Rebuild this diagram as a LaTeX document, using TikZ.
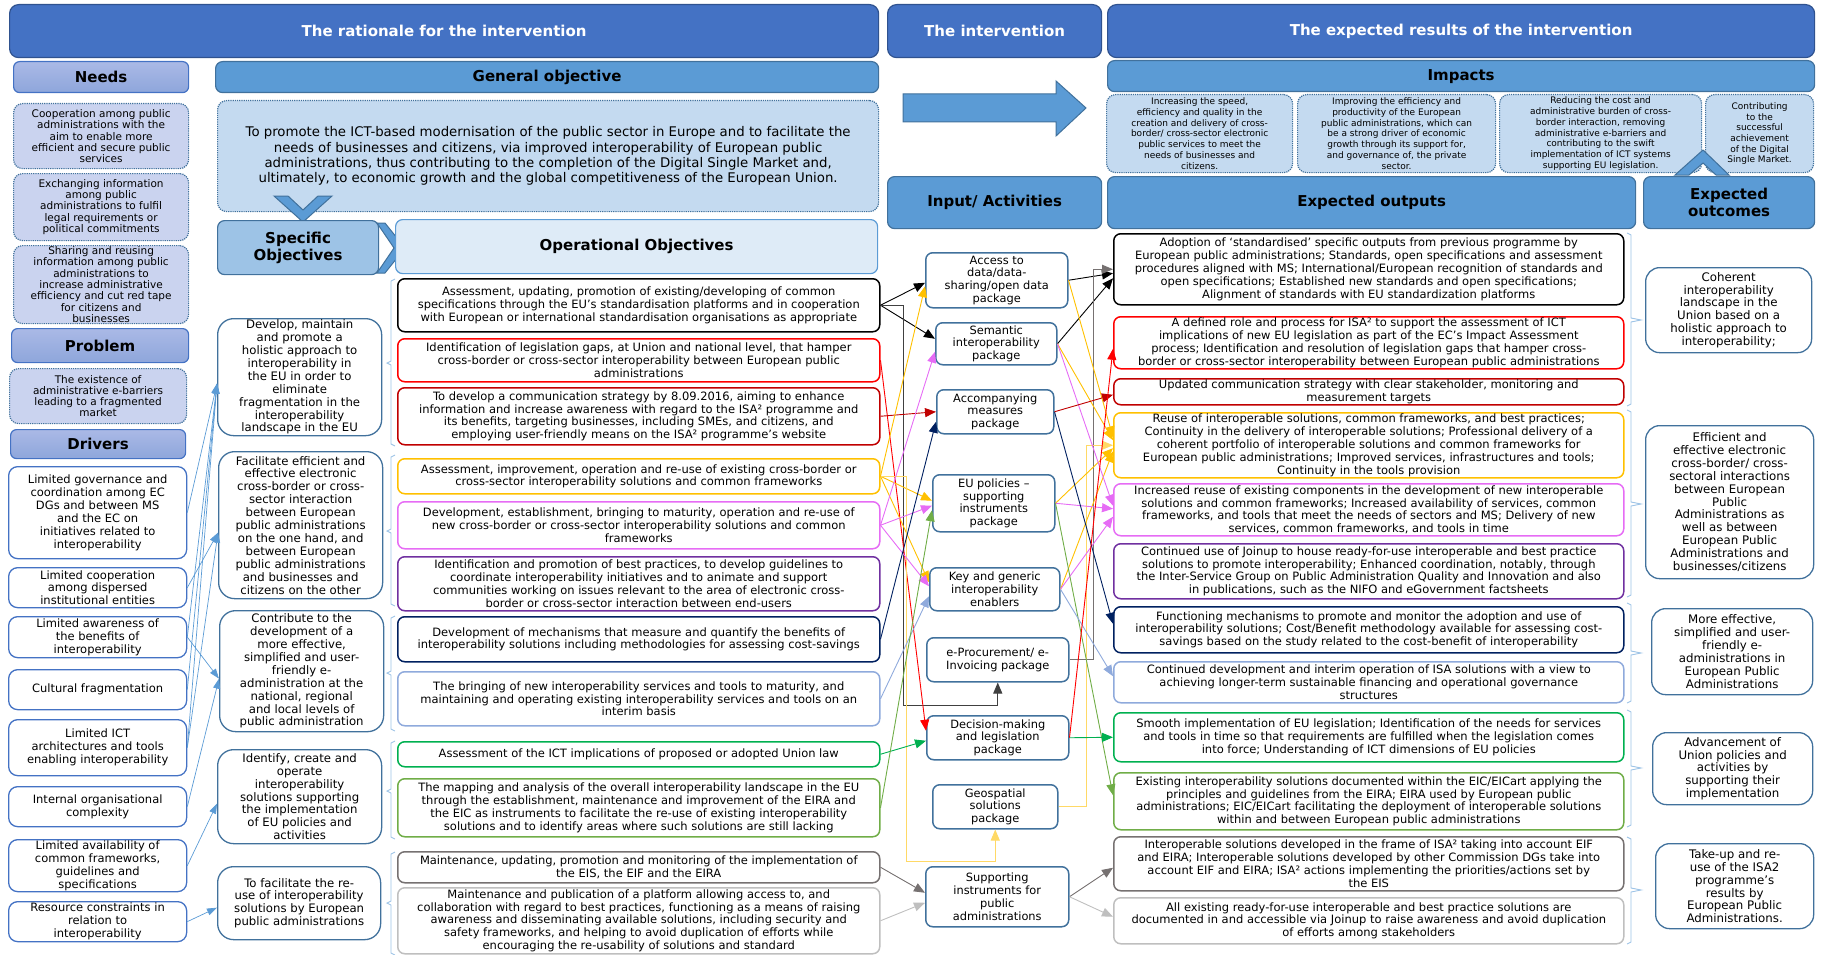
\documentclass[tikz,border=0pt]{standalone}
\usepackage{fontspec}
\setmainfont{DejaVu Sans}
\usetikzlibrary{arrows.meta,calc}

\definecolor{bandblue}{HTML}{4472C4}
\definecolor{bandline}{HTML}{2F528F}
\definecolor{midblue}{HTML}{5B9BD5}
\definecolor{edgeblue}{HTML}{41719C}
\definecolor{paleblue}{HTML}{C4DAF0}
\definecolor{iceblue}{HTML}{DEEBF7}
\definecolor{soblue}{HTML}{9DC3E6}
\definecolor{lavtop}{HTML}{AAB9E6}
\definecolor{lavbot}{HTML}{8EA6DB}
\definecolor{lavfill}{HTML}{CAD3EF}
\definecolor{brkblue}{HTML}{9DC3E6}
\definecolor{cred}{HTML}{FF0000}
\definecolor{cdarkred}{HTML}{C00000}
\definecolor{cgold}{HTML}{FFC000}
\definecolor{cpale}{HTML}{FFD966}
\definecolor{cpink}{HTML}{E66CF5}
\definecolor{cpurple}{HTML}{7030A0}
\definecolor{cnavy}{HTML}{002060}
\definecolor{clblue}{HTML}{8FAADC}
\definecolor{cgreen}{HTML}{00B050}
\definecolor{clgreen}{HTML}{70AD47}
\definecolor{cgray}{HTML}{767171}
\definecolor{clgray}{HTML}{BFBFBF}
\definecolor{cdark}{HTML}{404040}

\tikzset{
	cell/.style={anchor=north west, align=center, inner xsep=2pt, inner ysep=1pt},
	banner/.style={cell, fill=bandblue, draw=bandline, line width=1.2pt, rounded corners=9pt,
		text=white, font=\bfseries\fontsize{15}{17}\selectfont},
	head/.style={cell, fill=midblue, draw=edgeblue, line width=1.2pt, rounded corners=7pt,
		font=\bfseries\fontsize{15}{17}\selectfont},
	lavhead/.style={cell, top color=lavtop, bottom color=lavbot, draw=bandblue, line width=1.2pt,
		rounded corners=6pt, font=\bfseries\fontsize{15}{17}\selectfont},
	needbox/.style={cell, fill=lavfill, draw=edgeblue, densely dotted, line width=1.2pt,
		rounded corners=9pt, font=\fontsize{10.5}{11.3}\selectfont},
	impbox/.style={cell, fill=paleblue, draw=edgeblue, densely dotted, line width=1.2pt,
		rounded corners=9pt, font=\fontsize{9}{10.7}\selectfont},
	drvbox/.style={cell, fill=white, draw=bandblue, line width=1.3pt, rounded corners=9pt,
		font=\fontsize{11.5}{12.9}\selectfont},
	sobox/.style={cell, draw=edgeblue, line width=1.3pt, rounded corners=16pt,
		font=\fontsize{11.7}{12.9}\selectfont},
	opbox/.style={cell, line width=1.5pt, rounded corners=7pt, font=\fontsize{11.5}{12.8}\selectfont},
	actbox/.style={cell, draw=edgeblue, line width=1.5pt, rounded corners=7pt,
		font=\fontsize{11.4}{12.8}\selectfont},
	ocbox/.style={cell, draw=edgeblue, line width=1.3pt, rounded corners=14pt,
		font=\fontsize{11.8}{12.9}\selectfont},
	conn/.style={line width=0.9pt, -{Triangle[length=11pt,width=9pt]}},
	drvarrow/.style={midblue, line width=0.7pt, -{Triangle[length=10pt,width=7pt]}},
	brk/.style={brkblue, line width=0.9pt},
	chevron/.style={fill=midblue, draw=edgeblue, line width=1pt},
}

\begin{document}
\begin{tikzpicture}[x=1pt, y=-1pt]
		\useasboundingbox (0,0) rectangle (1825,955);
		
		\node[banner, minimum width=869, minimum height=53] (ratio) at (9,4) {The rationale for the intervention};
		\node[banner, minimum width=214, minimum height=53] (interv) at (887,4) {The intervention};
		\node[banner, minimum width=707, minimum height=53] (results) at (1107,4) {The expected results of the intervention};
		
		\node[lavhead, minimum width=175, minimum height=31] (needs) at (13,61) {Needs};
		\node[head, minimum width=663, minimum height=31] (genobj) at (215,61) {General objective};
		\node[head, minimum width=707, minimum height=31] (impacts) at (1107,60) {Impacts};
		
		\draw[chevron] (903,94) -- (1056,94) -- (1056,81) -- (1086,108) -- (1056,136) -- (1056,122) -- (903,122) -- cycle;
		
		\node[needbox, fill=paleblue, minimum width=661, minimum height=111, font=\fontsize{13.3}{15.2}\selectfont] (goaltxt) at (217,100)
			{To promote the ICT-based modernisation of the public sector in Europe and to facilitate the\\needs of businesses and citizens, via improved interoperability of European public\\administrations, thus contributing to the completion of the Digital Single Market and,\\ultimately, to economic growth and the global competitiveness of the European Union.};
		\draw[chevron] (274,196) -- (288,196) -- (303,210) -- (318,196) -- (332,196) -- (303,222) -- cycle;
		
		\node[impbox, minimum width=186, minimum height=78] (imp1) at (1106,94) {Increasing the speed,\\efficiency and quality in the\\creation and delivery of cross-\\border/ cross-sector electronic\\public services to meet the\\needs of businesses and\\citizens.};
		\node[impbox, minimum width=198, minimum height=78] (imp2) at (1297,94) {Improving the efficiency and\\productivity of the European\\public administrations, which can\\be a strong driver of economic\\growth through its support for,\\and governance of, the private\\sector.};
		\node[impbox, minimum width=202, minimum height=78] (imp3) at (1499,94) {Reducing the cost and\\administrative burden of cross-\\border interaction, removing\\administrative e-barriers and\\contributing to the swift\\implementation of ICT systems\\supporting EU legislation.};
		\node[impbox, minimum width=108, minimum height=78] (imp4) at (1705,94) {Contributing\\to the\\successful\\achievement\\of the Digital\\Single Market.};
		
		\node[needbox, minimum width=175, minimum height=65] (need1) at (13,103) {Cooperation among public\\administrations with the\\aim to enable more\\efficient and secure public\\services};
		\node[needbox, minimum width=175, minimum height=67] (need2) at (13,173) {Exchanging information\\among public\\administrations to fulfil\\legal requirements or\\political commitments};
		\node[needbox, minimum width=175, minimum height=78] (need3) at (13,245) {Sharing and reusing\\information among public\\administrations to\\increase administrative\\efficiency and cut red tape\\for citizens and\\businesses};
		\node[lavhead, minimum width=177, minimum height=34] (problem) at (11,328) {Problem};
		\node[needbox, minimum width=177, minimum height=55] (probtxt) at (9,368) {The existence of\\administrative e-barriers\\leading to a fragmented\\market};
		\node[lavhead, minimum width=175, minimum height=29] (drivers) at (10,429) {Drivers};
		
		\node[drvbox, minimum width=178, minimum height=92] (dr1) at (8,466) {Limited governance and\\coordination among EC\\DGs and between MS\\and the EC on\\initiatives related to\\interoperability};
		\node[drvbox, minimum width=178, minimum height=40] (dr2) at (8,567) {Limited cooperation\\among dispersed\\institutional entities};
		\node[drvbox, minimum width=178, minimum height=41] (dr3) at (8,616) {Limited awareness of\\the benefits of\\interoperability};
		\node[drvbox, minimum width=178, minimum height=40] (dr4) at (8,669) {Cultural fragmentation};
		\node[drvbox, minimum width=178, minimum height=56] (dr5) at (8,719) {Limited ICT\\architectures and tools\\enabling interoperability};
		\node[drvbox, minimum width=178, minimum height=40] (dr6) at (8,786) {Internal organisational\\complexity};
		\node[drvbox, minimum width=178, minimum height=52] (dr7) at (8,839) {Limited availability of\\common frameworks,\\guidelines and\\specifications};
		\node[drvbox, minimum width=178, minimum height=40] (dr8) at (8,901) {Resource constraints in\\relation to\\interoperability};
		
		\node[head, fill=soblue, minimum width=161, minimum height=54] (specobj) at (217,220) {Specific\\Objectives};
		\draw[chevron] (377,223) -- (385,223) -- (405,248) -- (385,273) -- (377,273) -- (394,248) -- cycle;
		\node[head, fill=iceblue, draw=midblue, minimum width=482, minimum height=54] (opobj) at (395,219) {Operational Objectives};
		
		\node[sobox, minimum width=164, minimum height=117] (so1) at (217,318) {Develop, maintain\\and promote a\\holistic approach to\\interoperability in\\the EU in order to\\eliminate\\fragmentation in the\\interoperability\\landscape in the EU};
		\node[sobox, minimum width=164, minimum height=147] (so2) at (218,451) {Facilitate efficient and\\effective electronic\\cross-border or cross-\\sector interaction\\between European\\public administrations\\on the one hand, and\\between European\\public administrations\\and businesses and\\citizens on the other};
		\node[sobox, minimum width=164, minimum height=121] (so3) at (219,610) {Contribute to the\\development of a\\more effective,\\simplified and user-\\friendly e-\\administration at the\\national, regional\\and local levels of\\public administration};
		\node[sobox, minimum width=164, minimum height=94] (so4) at (217,749) {Identify, create and\\operate\\interoperability\\solutions supporting\\the implementation\\of EU policies and\\activities};
		\node[sobox, minimum width=163, minimum height=73] (so5) at (217,866) {To facilitate the re-\\use of interoperability\\solutions by European\\public administrations};
		
		\node[opbox, draw=black, minimum width=482, minimum height=53] (op1) at (397,278) {Assessment, updating, promotion of existing/developing of common\\specifications through the EU's standardisation platforms and in cooperation\\with European or international standardisation organisations as appropriate};
		\node[opbox, draw=cred, minimum width=482, minimum height=43] (op2) at (397,338) {Identification of legislation gaps, at Union and national level, that hamper\\cross-border or cross-sector interoperability between European public\\administrations};
		\node[opbox, draw=cdarkred, minimum width=482, minimum height=57] (op3) at (397,387) {To develop a communication strategy by 8.09.2016, aiming to enhance\\information and increase awareness with regard to the ISA² programme and\\its benefits, targeting businesses, including SMEs, and citizens, and\\employing user-friendly means on the ISA² programme's website};
		\node[opbox, draw=cgold, minimum width=482, minimum height=35] (op4) at (397,458) {Assessment, improvement, operation and re-use of existing cross-border or\\cross-sector interoperability solutions and common frameworks};
		\node[opbox, draw=cpink, minimum width=482, minimum height=47] (op5) at (397,501) {Development, establishment, bringing to maturity, operation and re-use of\\new cross-border or cross-sector interoperability solutions and common\\frameworks};
		\node[opbox, draw=cpurple, minimum width=482, minimum height=54] (op6) at (397,556) {Identification and promotion of best practices, to develop guidelines to\\coordinate interoperability initiatives and to animate and support\\communities working on issues relevant to the area of electronic cross-\\border or cross-sector interaction between end-users};
		\node[opbox, draw=cnavy, minimum width=482, minimum height=45] (op7) at (397,616) {Development of mechanisms that measure and quantify the benefits of\\interoperability solutions including methodologies for assessing cost-savings};
		\node[opbox, draw=clblue, minimum width=482, minimum height=54] (op8) at (397,671) {The bringing of new interoperability services and tools to maturity, and\\maintaining and operating existing interoperability services and tools on an\\interim basis};
		\node[opbox, draw=cgreen, minimum width=482, minimum height=25] (op9) at (397,741) {Assessment of the ICT implications of proposed or adopted Union law};
		\node[opbox, draw=clgreen, minimum width=482, minimum height=58] (op10) at (397,778) {The mapping and analysis of the overall interoperability landscape in the EU\\through the establishment, maintenance and improvement of the EIRA and\\the EIC as instruments to facilitate the re-use of existing interoperability\\solutions and to identify areas where such solutions are still lacking};
		\node[opbox, draw=cgray, minimum width=482, minimum height=31] (op11) at (397,851) {Maintenance, updating, promotion and monitoring of the implementation of\\the EIS, the EIF and the EIRA};
		\node[opbox, draw=clgray, minimum width=482, minimum height=66] (op12) at (397,887) {Maintenance and publication of a platform allowing access to, and\\collaboration with regard to best practices, functioning as a means of raising\\awareness and disseminating available solutions, including security and\\safety frameworks, and helping to avoid duplication of efforts while\\encouraging the re-usability of solutions and standard};
		
		\draw[brk] (395,279) -- (391,281) -- (391,361) -- (387,363) -- (391,365) -- (391,444) -- (395,446);
		\draw[brk] (395,455) -- (391,457) -- (391,529) -- (387,531) -- (391,533) -- (391,604) -- (395,606);
		\draw[brk] (395,616) -- (391,618) -- (391,671) -- (387,673) -- (391,675) -- (391,729) -- (395,731);
		\draw[brk] (395,741) -- (391,743) -- (391,789) -- (387,791) -- (391,793) -- (391,837) -- (395,839);
		\draw[brk] (395,852) -- (391,854) -- (391,901) -- (387,903) -- (391,905) -- (391,953) -- (395,955);
		
		\node[head, minimum width=214, minimum height=52] (inact) at (887,176) {Input/ Activities};
		\node[head, minimum width=528, minimum height=52] (outhd) at (1107,176) {Expected outputs};
		\node[head, minimum width=171, minimum height=52] (ochd) at (1643,176) {Expected\\outcomes};
		\draw[chevron] (1675,175) -- (1703,150) -- (1729,175) -- (1716,175) -- (1703,163) -- (1689,175) -- cycle;
		
		\node[actbox, minimum width=142, minimum height=55] (acc) at (925,252) {Access to\\data/data-\\sharing/open data\\package};
		\node[actbox, minimum width=121, minimum height=42] (sem) at (935,322) {Semantic\\interoperability\\package};
		\node[actbox, minimum width=117, minimum height=44] (accm) at (936,389) {Accompanying\\measures\\package};
		\node[actbox, minimum width=122, minimum height=57] (eup) at (932,474) {EU policies –\\supporting\\instruments\\package};
		\node[actbox, minimum width=130, minimum height=43] (key) at (929,567) {Key and generic\\interoperability\\enablers};
		\node[actbox, minimum width=142, minimum height=44] (eproc) at (926,637) {e-Procurement/ e-\\Invoicing package};
		\node[actbox, minimum width=142, minimum height=44] (dec) at (926,715) {Decision-making\\and legislation\\package};
		\node[actbox, minimum width=125, minimum height=44] (geo) at (932,784) {Geospatial\\solutions\\package};
		\node[actbox, minimum width=143, minimum height=60] (sup) at (925,866) {Supporting\\instruments for\\public\\administrations};
		
		\node[opbox, draw=black, minimum width=510, minimum height=71] (out1) at (1113,233) {Adoption of ‘standardised’ specific outputs from previous programme by\\European public administrations; Standards, open specifications and assessment\\procedures aligned with MS; International/European recognition of standards and\\open specifications; Established new standards and open specifications;\\Alignment of standards with EU standardization platforms};
		\node[opbox, draw=cred, minimum width=510, minimum height=52] (out2) at (1113,316) {A defined role and process for ISA² to support the assessment of ICT\\implications of new EU legislation as part of the EC’s Impact Assessment\\process; Identification and resolution of legislation gaps that hamper cross-\\border or cross-sector interoperability between European public administrations};
		\node[opbox, draw=cdarkred, minimum width=510, minimum height=26] (out3) at (1113,378) {Updated communication strategy with clear stakeholder, monitoring and\\measurement targets};
		\node[opbox, draw=cgold, minimum width=510, minimum height=65] (out4) at (1113,412) {Reuse of interoperable solutions, common frameworks, and best practices;\\Continuity in the delivery of interoperable solutions; Professional delivery of a\\coherent portfolio of interoperable solutions and common frameworks for\\European public administrations; Improved services, infrastructures and tools;\\Continuity in the tools provision};
		\node[opbox, draw=cpink, minimum width=510, minimum height=52] (out5) at (1113,483) {Increased reuse of existing components in the development of new interoperable\\solutions and common frameworks; Increased availability of services, common\\frameworks, and tools that meet the needs of sectors and MS; Delivery of new\\services, common frameworks, and tools in time};
		\node[opbox, draw=cpurple, minimum width=510, minimum height=55] (out6) at (1113,543) {Continued use of Joinup to house ready-for-use interoperable and best practice\\solutions to promote interoperability; Enhanced coordination, notably, through\\the Inter-Service Group on Public Administration Quality and Innovation and also\\in publications, such as the NIFO and eGovernment factsheets};
		\node[opbox, draw=cnavy, minimum width=510, minimum height=46] (out7) at (1113,606) {Functioning mechanisms to promote and monitor the adoption and use of\\interoperability solutions; Cost/Benefit methodology available for assessing cost-\\savings based on the study related to the cost-benefit of interoperability};
		\node[opbox, draw=clblue, minimum width=510, minimum height=41] (out8) at (1113,661) {Continued development and interim operation of ISA solutions with a view to\\achieving longer-term sustainable financing and operational governance\\structures};
		\node[opbox, draw=cgreen, minimum width=510, minimum height=49] (out9) at (1113,712) {Smooth implementation of EU legislation; Identification of the needs for services\\and tools in time so that requirements are fulfilled when the legislation comes\\into force; Understanding of ICT dimensions of EU policies};
		\node[opbox, draw=clgreen, minimum width=510, minimum height=57] (out10) at (1113,772) {Existing interoperability solutions documented within the EIC/EICart applying the\\principles and guidelines from the EIRA; EIRA used by European public\\administrations; EIC/EICart facilitating the deployment of interoperable solutions\\within and between European public administrations};
		\node[opbox, draw=cgray, minimum width=510, minimum height=54] (out11) at (1113,836) {Interoperable solutions developed in the frame of ISA² taking into account EIF\\and EIRA; Interoperable solutions developed by other Commission DGs take into\\account EIF and EIRA; ISA² actions implementing the priorities/actions set by\\the EIS};
		\node[opbox, draw=clgray, minimum width=510, minimum height=46] (out12) at (1113,897) {All existing ready-for-use interoperable and best practice solutions are\\documented in and accessible via Joinup to raise awareness and avoid duplication\\of efforts among stakeholders};
		
		\draw[brk] (1627,233) -- (1631,235) -- (1631,318) -- (1641,320) -- (1631,322) -- (1631,404) -- (1627,406);
		\draw[brk] (1627,410) -- (1631,412) -- (1631,502) -- (1641,504) -- (1631,506) -- (1631,595) -- (1627,597);
		\draw[brk] (1627,603) -- (1631,605) -- (1631,651) -- (1641,653) -- (1631,655) -- (1631,701) -- (1627,703);
		\draw[brk] (1627,710) -- (1631,712) -- (1631,766) -- (1641,768) -- (1631,770) -- (1631,825) -- (1627,827);
		\draw[brk] (1627,837) -- (1631,839) -- (1631,888) -- (1641,890) -- (1631,892) -- (1631,942) -- (1627,944);
		
		\node[ocbox, minimum width=166, minimum height=85] (oc1) at (1645,267) {Coherent\\interoperability\\landscape in the\\Union based on a\\holistic approach to\\interoperability;};
		\node[ocbox, minimum width=168, minimum height=153] (oc2) at (1645,425) {Efficient and\\effective electronic\\cross-border/ cross-\\sectoral interactions\\between European\\Public\\Administrations as\\well as between\\European Public\\Administrations and\\businesses/citizens};
		\node[ocbox, minimum width=161, minimum height=86] (oc3) at (1651,608) {More effective,\\simplified and user-\\friendly e-\\administrations in\\European Public\\Administrations};
		\node[ocbox, minimum width=160, minimum height=72] (oc4) at (1652,732) {Advancement of\\Union policies and\\activities by\\supporting their\\implementation};
		\node[ocbox, minimum width=158, minimum height=85] (oc5) at (1655,843) {Take-up and re-\\use of the ISA2\\programme’s\\results by\\European Public\\Administrations.};
		
		\draw[drvarrow] (dr1.east) -- ($(so1.west)+(0,6.5)$);
		\draw[drvarrow] (dr3.east) -- ($(so1.west)+(0,6.5)$);
		\draw[drvarrow] (dr4.east) -- ($(so1.west)+(0,6.5)$);
		\draw[drvarrow] (dr5.east) -- ($(so1.west)+(0,6.5)$);
		\draw[drvarrow] (dr2.east) -- ($(so2.west)+(0,7.5)$);
		\draw[drvarrow] (dr5.east) -- ($(so2.west)+(0,7.5)$);
		\draw[drvarrow] (dr3.east) -- ($(so3.west)+(0,7.5)$);
		\draw[drvarrow] (dr6.east) -- ($(so3.west)+(0,7.5)$);
		\draw[drvarrow] (dr7.east) -- ($(so4.west)+(0,7)$);
		\draw[drvarrow] (dr8.east) -- ($(so5.west)+(0,4.5)$);
		
		\draw[conn, black] (op1.east) -- ($(acc.west)+(0,2.5)$);
		\draw[conn, black] (op1.east) -- ($(sem.west)+(0,-5)$);
		\draw[conn, cdark] (op1.east) -- ++(23,0) |- ($(eproc.south)+(0,23)$) -- (eproc.south);
		\draw[conn, cred] (op2.east) -- ($(dec.west)+(0,-7)$);
		\draw[conn, cdarkred] (op3.east) -- (accm.west);
		\draw[conn, cgold] (op4.east) -- ($(acc.west)+(0,6)$);
		\draw[conn, cgold] (op4.east) -- ($(eup.west)+(0,-2.5)$);
		\draw[conn, cgold] (op4.east) -- ($(key.west)+(0,-7)$);
		\draw[conn, cpale] (op4.east) -- ++(26,0) |- ($(geo.south)+(0,32)$) -- (geo.south);
		\draw[conn, cpink] (op5.east) -- ($(sem.west)+(0,8)$);
		\draw[conn, cpink] (op5.east) -- ($(eup.west)+(0,2.5)$);
		\draw[conn, cpink] (op5.east) -- ($(key.west)+(0,-3)$);
		\draw[conn, cnavy] (op7.east) -- ($(accm.west)+(0,10)$);
		\draw[conn, clblue] (op8.east) -- ($(key.west)+(0,7)$);
		\draw[conn, cgreen] (op9.east) -- ($(dec.west)+(0,3)$);
		\draw[conn, clgreen] (op10.east) -- ($(eup.west)+(0,7)$);
		\draw[conn, cgray] (op11.east) -- ($(sup.west)+(0,-4)$);
		\draw[conn, clgray] (op12.east) -- ($(sup.west)+(0,6)$);
		
		\draw[conn, black] (acc.east) -- ($(out1.west)+(0,4)$);
		\draw[conn, black] (sem.east) -- ($(out1.west)+(0,9)$);
		\draw[conn, cgray] (eproc.east) -- ++(24,0) |- (out1.west);
		\draw[conn, cgold] (acc.east) -- ($(out4.west)+(0,-8)$);
		\draw[conn, cgold] (sem.east) -- ($(out4.west)+(0,-5)$);
		\draw[conn, cpale] (geo.east) -- ++(28,0) |- (out4.west);
		\draw[conn, cgold] (eup.east) -- ($(out4.west)+(0,3)$);
		\draw[conn, cgold] (key.east) -- ($(out4.west)+(0,6)$);
		\draw[conn, cpink] (sem.east) -- ($(out5.west)+(0,-4)$);
		\draw[conn, cpink] (eup.east) -- ($(out5.west)+(0,-1)$);
		\draw[conn, cpink] (key.east) -- ($(out5.west)+(0,7)$);
		\draw[conn, cdarkred] (accm.east) -- ($(out3.west)+(0,3)$);
		\draw[conn, cnavy] (accm.east) -- ($(out7.west)+(0,-6)$);
		\draw[conn, clgreen] (eup.east) -- ($(out10.west)+(0,-6)$);
		\draw[conn, clblue] (key.east) -- ($(out8.west)+(0,-6)$);
		\draw[conn, cred] (dec.east) -- ($(out2.west)+(0,6)$);
		\draw[conn, cgreen] (dec.east) -- (out9.west);
		\draw[conn, cgray] (sup.east) -- ($(out11.west)+(0,4)$);
		\draw[conn, clgray] (sup.east) -- ($(out12.west)+(0,-4)$);
\end{tikzpicture}
\end{document}
